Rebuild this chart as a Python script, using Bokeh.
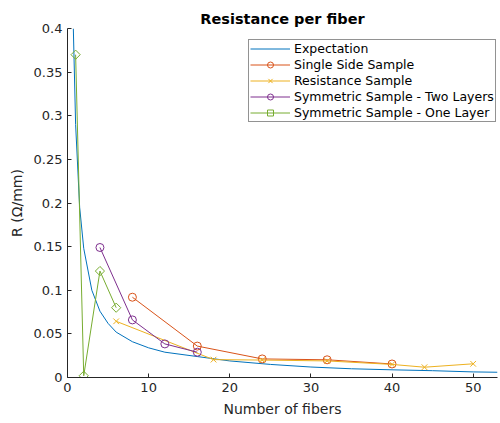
import math
from bokeh.plotting import figure
from bokeh.embed import file_html
from bokeh.resources import INLINE
from bokeh.models import Range1d, FixedTicker, Legend, LegendItem

# ---- data ----
exp_n = [0.72, 1.0, 1.5, 2.0, 3.0, 4.0, 5.0, 6.0, 8.0, 10.0, 12.0, 16.0, 20.0, 25.0, 30.0, 35.0, 40.0, 45.0, 50.0, 53.0]
exp_r = [0.40, 0.29, 0.195, 0.148, 0.100, 0.076, 0.062, 0.052, 0.041, 0.034, 0.029, 0.024, 0.019, 0.015, 0.012, 0.010, 0.0088, 0.0078, 0.0064, 0.006]

single_n = [8, 16, 24, 32, 40]
single_r = [0.092, 0.036, 0.0213, 0.0203, 0.0155]

resist_n = [6, 18, 24, 32, 40, 44, 50]
resist_r = [0.0644, 0.0205, 0.020, 0.019, 0.015, 0.0118, 0.0157]

two_n = [4, 8, 12, 16]
two_r = [0.149, 0.066, 0.0385, 0.029]

one_n = [1, 2, 4, 6]
one_r = [0.370, 0.002, 0.122, 0.080]

x_ticks = [0, 10, 20, 30, 40, 50]
y_ticks = [0, 0.05, 0.1, 0.15, 0.2, 0.25, 0.3, 0.35, 0.4]
y_tick_labels = ["0", "0.05", "0.1", "0.15", "0.2", "0.25", "0.3", "0.35", "0.4"]

labels = ["Expectation", "Single Side Sample", "Resistance Sample",
          "Symmetric Sample - Two Layers", "Symmetric Sample - One Layer"]
colors = ["#0072BD", "#D95319", "#EDB120", "#7E2F8E", "#77AC30"]

FONT = "DejaVu Sans"

p = figure(width=500, height=423, output_backend="svg", toolbar_location=None,
           x_range=Range1d(0, 53), y_range=Range1d(0, 0.4),
           min_border_left=67, min_border_right=3, min_border_top=28, min_border_bottom=46)

p.title.text = "Resistance per fiber"
p.title.align = "center"
p.title.text_font = FONT
p.title.text_font_size = "14.5px"
p.title.text_font_style = "bold"
p.title.text_color = "#000000"
p.title.standoff = 4

p.xgrid.visible = False
p.ygrid.visible = False
p.outline_line_color = None
p.background_fill_color = "white"
p.border_fill_color = "white"

for ax in (p.xaxis[0], p.yaxis[0]):
    ax.axis_line_color = "#262626"
    ax.major_tick_line_color = "#262626"
    ax.major_tick_in = 4
    ax.major_tick_out = 0
    ax.minor_tick_line_color = None
    ax.major_label_text_font = FONT
    ax.major_label_text_font_size = "13px"
    ax.major_label_text_color = "#262626"
    ax.axis_label_text_font = FONT
    ax.axis_label_text_font_size = "14px"
    ax.axis_label_text_font_style = "normal"
    ax.axis_label_text_color = "#262626"

p.xaxis.ticker = FixedTicker(ticks=x_ticks)
p.yaxis.ticker = FixedTicker(ticks=y_ticks)
p.yaxis.major_label_overrides = {t: l for t, l in zip(y_ticks, y_tick_labels)}
p.xaxis.axis_label = "Number of fibers"
p.yaxis.axis_label = "R (\u03a9/mm)"
p.xaxis.major_label_standoff = 5
p.yaxis.major_label_standoff = 5
p.xaxis.axis_label_standoff = 6
p.yaxis.axis_label_standoff = 6

items = []
r0 = p.line(exp_n, exp_r, line_color=colors[0], line_width=1)
items.append(LegendItem(label=labels[0], renderers=[r0]))

l1 = p.line(single_n, single_r, line_color=colors[1], line_width=1)
m1 = p.scatter(single_n, single_r, marker="circle", size=8, fill_color=None, line_color=colors[1])
items.append(LegendItem(label=labels[1], renderers=[l1, m1]))

l2 = p.line(resist_n, resist_r, line_color=colors[2], line_width=1)
m2 = p.scatter(resist_n, resist_r, marker="x", size=8, line_color=colors[2])
items.append(LegendItem(label=labels[2], renderers=[l2, m2]))

l3 = p.line(two_n, two_r, line_color=colors[3], line_width=1)
m3 = p.scatter(two_n, two_r, marker="circle", size=8, fill_color=None, line_color=colors[3])
items.append(LegendItem(label=labels[3], renderers=[l3, m3]))

l4 = p.line(one_n, one_r, line_color=colors[4], line_width=1)
m4 = p.scatter(one_n, one_r, marker="square", angle=math.pi / 4, size=6.5,
               fill_color=None, line_color=colors[4])
items.append(LegendItem(label=labels[4], renderers=[l4, m4]))

legend = Legend(items=items, location=(181, 255))
legend.label_text_font = FONT
legend.label_text_font_size = "12.5px"
legend.label_text_color = "#000000"
legend.border_line_color = "#262626"
legend.border_line_width = 1
legend.background_fill_alpha = 1
legend.glyph_width = 40
legend.glyph_height = 15
legend.label_height = 15
legend.label_standoff = 4
legend.spacing = 1
legend.padding = 1
legend.margin = 0
p.add_layout(legend, "center")

open("out.html", "w").write(file_html(p, INLINE))
